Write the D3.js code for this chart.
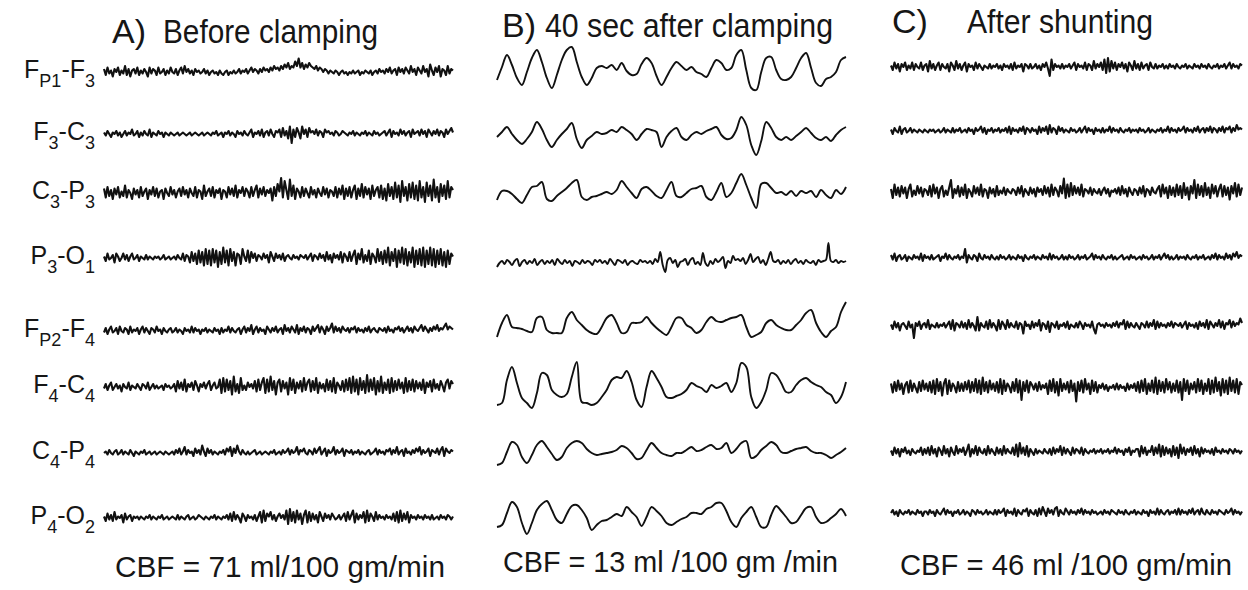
<!DOCTYPE html>
<html>
<head>
<meta charset="utf-8">
<script src="https://cdn.jsdelivr.net/npm/d3@7"></script>
<style>
  body { margin: 0; background: #fff; }
  svg text { font-family: "Liberation Sans", Arial, sans-serif; fill: #161616; }
</style>
</head>
<body>
<div id="chart"></div>
<script>
// 導程名稱 (主字, 下標)
const channels = [
    [["F", "P1"], ["F", "3"]],
    [["F", "3"], ["C", "3"]],
    [["C", "3"], ["P", "3"]],
    [["P", "3"], ["O", "1"]],
    [["F", "P2"], ["F", "4"]],
    [["F", "4"], ["C", "4"]],
    [["C", "4"], ["P", "4"]],
    [["P", "4"], ["O", "2"]]
];
const panelTags = ["A)", "B)", "C)"];
const panelTitles = ["Before clamping", "40 sec after clamping", "After shunting"];
const cbfLabels = ["CBF = 71 ml/100 gm/min", "CBF = 13 ml /100 gm /min", "CBF = 46 ml /100 gm/min"];

// A) Before clamping
const a1 = [2,-2,3,-1,1,-3,2,0,3,-2,1,-1,4,-2,2,-3,1,2,-1,3,
    -2,1,-1,2,0,-3,3,-1,2,1,-2,3,-1,0,2,-2,1,-1,3,0,
    -1,2,-2,1,3,-1,4,0,2,-1,1,-2,2,0,1,-1,0,2,-1,1,
    -2,0,1,-1,0,-2,1,-1,-2,0,1,-2,0,-1,1,-1,0,2,-1,1,
    0,2,-1,1,3,0,2,1,-1,2,0,3,1,2,0,3,1,4,2,3,
    1,4,2,5,3,6,2,4,3,7,4,9,3,6,2,5,3,6,4,3,
    2,4,1,3,2,0,2,1,-1,1,0,-1,1,0,-2,0,1,-1,0,-2,
    0,-1,1,-1,0,1,-2,0,-1,1,0,-1,1,-2,0,1,-1,2,0,1,
    -1,2,0,3,-1,1,2,-2,3,0,2,-1,3,1,-1,4,0,2,-2,3,
    1,-1,4,0,2,-3,5,1,-2,3,0,4,-3,2,1,-2,4,-1,2,1];
const a2 = [1,-1,2,0,-2,1,0,2,-1,1,-2,0,2,-1,1,0,3,-1,0,2,
    -2,1,-1,2,0,-1,3,-2,1,0,-1,2,0,1,-2,1,0,-1,1,0,
    -1,0,1,-1,0,1,0,-1,0,1,-1,0,1,0,-1,0,1,-1,0,1,
    0,-1,1,0,2,-1,0,1,-2,1,0,2,-1,1,0,-2,2,0,1,-1,
    2,0,-1,1,3,-2,1,0,2,-1,3,-2,1,2,-1,3,0,-2,2,1,
    3,-2,4,-1,2,-3,5,-6,3,-2,4,1,-3,5,0,3,-2,4,1,2,
    0,3,-1,2,1,-2,3,1,2,0,1,-1,2,1,-1,0,2,1,0,-1,
    1,0,2,-1,1,0,-1,1,0,2,-1,1,0,-1,2,0,1,-1,0,1,
    2,-1,1,3,-2,2,0,1,-1,3,0,2,-1,1,2,-2,3,0,1,2,
    -1,3,0,2,-2,3,1,-1,2,0,3,-1,2,1,-2,3,0,2,4,1];
const a3 = [3,-3,4,-2,2,-4,3,-1,4,-3,1,-2,5,-3,2,0,-4,3,-1,2,
    -3,4,-2,1,3,-4,2,-1,4,-2,3,-3,1,2,-4,3,0,-2,4,-1,
    2,-3,1,3,-2,4,-1,2,-3,3,0,-2,4,-3,2,1,-4,5,-2,1,
    3,-2,4,-3,2,0,3,-4,2,1,-3,4,-1,3,-2,5,-3,2,0,4,
    -2,3,1,-3,4,-2,2,5,-3,3,-1,4,-2,2,0,3,-5,4,-2,6,
    1,10,-3,8,2,-4,9,-2,5,-4,3,1,-3,4,-2,3,0,-3,4,-1,
    2,-3,3,0,-2,4,-1,3,-3,2,1,-2,4,-3,3,-1,5,-4,3,-2,
    4,-3,2,5,-4,3,-2,6,-3,4,-1,3,-4,5,-2,2,4,-3,5,-4,
    3,-5,6,-2,4,-4,7,-3,5,-6,8,-2,4,-5,6,-3,7,-4,5,-5,
    8,-3,4,-6,7,-2,5,-5,9,-3,4,-6,6,-2,5,-4,8,-3,4,2];
const a4 = [1,-2,3,-1,0,2,-3,3,1,-2,0,3,-1,2,-2,1,3,-1,0,2,
    -2,1,0,-1,2,-1,1,0,-1,1,0,1,-1,0,2,-1,0,1,-1,0,
    1,-1,2,0,-1,3,-2,2,1,-3,4,-2,3,-4,5,-3,4,-5,6,-4,
    5,-5,6,-3,5,-6,4,-4,7,-3,5,-5,6,-2,4,-5,3,2,-4,6,
    1,-2,5,-3,4,0,3,-2,2,1,-1,3,0,2,-3,4,1,-2,3,0,
    2,-1,3,-2,1,2,0,-1,2,0,1,-1,2,1,0,2,-1,1,3,-2,
    2,1,-1,3,0,2,-2,4,-1,2,-3,3,0,2,-1,4,-3,3,1,-2,
    4,-2,2,5,-4,3,-1,6,-3,2,-2,5,-4,3,1,-3,6,-2,4,-4,
    5,-3,7,-5,4,-2,6,-6,5,-3,7,-4,6,-5,4,-3,7,-6,5,-4,
    6,-5,7,-6,5,-4,7,-5,6,-6,5,-4,6,-5,4,-6,5,-4,3,1];
const a5 = [-1,2,-2,1,3,-1,0,2,-2,3,0,-1,2,1,-2,3,-1,1,0,2,
    -2,1,3,-1,2,0,-2,2,1,-1,3,0,1,-2,2,0,-1,1,2,-1,
    0,2,-1,1,0,-2,2,0,1,-1,3,-1,2,0,1,-2,1,0,2,-1,
    1,0,-1,2,0,1,-2,2,-1,1,0,3,-1,2,0,-1,1,2,-2,1,
    3,-1,2,0,4,-2,1,3,-1,2,0,1,-2,3,1,-1,2,0,3,-1,
    1,2,-2,4,0,2,-1,3,1,-1,4,-2,2,0,3,-1,2,1,-2,3,
    0,2,4,-1,3,1,-2,3,0,2,5,-1,3,0,2,-1,3,1,0,2,
    -1,2,1,3,-1,2,0,1,-1,2,0,3,-1,1,2,0,-1,2,1,0,
    2,-1,3,0,1,-1,2,1,3,0,2,-1,1,3,0,2,-1,3,1,0,
    2,4,0,3,1,-1,2,0,3,1,4,0,2,1,3,5,1,3,2,1];
const a6 = [-1,2,-2,1,3,-2,0,2,-1,1,-3,2,0,-1,3,-2,1,0,-1,2,
    0,-2,2,1,-1,3,-2,0,2,-1,1,-1,0,1,-2,2,0,1,-1,0,
    2,-3,4,-1,3,-2,5,-3,2,0,3,-2,4,1,-3,2,0,3,-1,2,
    4,-2,1,3,-1,0,5,-4,6,-3,5,-2,4,-5,7,-3,2,-4,6,-2,
    1,-2,3,0,2,-1,4,-3,5,-2,3,6,-4,5,-3,7,-2,4,-5,3,
    5,-3,4,-1,3,-5,6,-2,5,-4,3,-1,4,-3,6,-2,3,5,-3,4,
    -2,6,-4,3,-1,2,-3,5,-2,4,-3,6,-4,3,1,-2,4,-3,5,-2,
    6,-4,7,-3,5,-5,6,-2,4,-4,8,-3,5,-2,6,-5,4,-3,7,-4,
    3,-2,5,-4,6,-3,4,-2,5,-1,3,-4,6,-3,4,-2,5,-3,4,-1,
    3,-2,5,-4,3,0,4,-3,5,-1,2,-2,4,1,-3,3,5,-1,4,2];
const a7 = [0,1,-1,2,0,-1,1,2,-1,0,2,-1,1,0,-1,2,0,-2,1,0,
    -1,1,0,2,-1,0,1,-1,0,1,-1,0,1,0,-1,1,0,-1,0,1,
    -1,2,0,3,-1,1,4,-1,2,0,1,-2,3,0,2,-1,5,1,-2,3,
    0,2,-1,1,0,-1,1,0,2,-1,3,1,4,-2,3,0,5,1,-1,2,
    0,-1,1,-1,0,1,2,-1,0,1,-1,0,1,0,-1,1,0,2,-1,0,
    1,-1,2,0,1,3,-1,2,0,1,4,-1,2,1,3,0,-1,2,1,-1,
    3,0,2,4,-1,1,3,-2,2,0,1,4,-1,2,0,1,3,-2,2,1,
    0,2,-1,1,0,2,-1,1,0,-1,1,2,-1,0,1,3,-1,2,0,1,
    -1,2,1,3,-1,2,0,4,-1,1,2,-2,3,0,1,-1,2,0,3,1,
    4,-1,2,0,1,3,-2,2,1,0,3,-1,2,4,-2,3,1,0,2,1];
const a8 = [1,-2,3,-1,2,-2,4,-1,1,0,2,-3,3,-1,1,2,-2,1,0,1,
    -1,1,0,-1,1,0,2,-1,1,0,-1,1,0,2,-1,0,1,-1,0,1,
    0,-1,2,-1,1,0,-1,1,2,-1,0,1,-1,0,2,1,0,-1,1,0,
    -1,1,0,2,-1,1,0,-1,1,0,2,-1,3,-2,4,-1,2,0,-3,3,
    1,-2,2,0,1,-1,2,-2,1,4,-3,5,-2,3,1,4,-1,2,-2,1,
    3,0,2,-1,5,-4,6,-2,4,-3,5,-1,3,-4,2,5,-3,4,-2,3,
    -1,2,-3,4,1,-2,3,0,2,-1,3,1,-1,0,2,-1,1,3,-2,4,
    -1,2,5,-3,3,-1,2,0,4,-3,5,-2,3,1,-2,4,-1,2,0,1,
    -1,2,0,1,-1,3,-2,4,-3,5,-2,3,-1,4,-3,2,0,1,-1,2,
    0,1,-1,2,0,1,-1,2,-1,0,1,-1,2,0,1,-1,2,1,-1,1];

// B) 40 sec after clamping
const b1 = [-10,3,15,5,-8,-15,-2,12,20,8,-8,-18,-5,10,20,23,8,-7,-15,-8,2,4,2,5,0,7,-1,-5,-4,6,12,7,-6,-15,-7,2,8,4,0,3,-2,-4,-7,2,10,7,0,2,15,20,0,-18,-20,-2,12,13,0,-9,-10,-7,2,12,17,2,-13,-16,-9,-7,-2,10,13];
const b2 = [-2,3,8,1,-5,-9,-4,3,13,6,-5,-12,-5,1,6,12,-4,-13,-5,-1,3,1,2,5,3,8,5,1,-5,1,6,5,3,-12,-2,4,7,-2,-5,0,3,1,4,6,8,0,-4,-3,5,18,10,-10,-20,-6,13,7,-2,-5,-2,-5,-1,3,7,2,-3,-5,-2,-6,0,5,8];
const b3 = [-7,2,2,-1,-6,-10,-2,6,7,11,-6,-8,-3,1,5,10,13,-4,-7,-4,-3,-1,1,-1,3,12,6,0,-5,4,6,2,-3,-5,3,11,-3,-4,0,4,5,7,-4,-7,1,10,-4,0,10,19,8,-5,-15,9,10,5,0,1,-2,2,-3,2,0,2,-4,3,-2,-5,3,-1,6];
const b4 = [-4,0,2,-1,3,1,-2,2,4,-3,1,3,-1,2,0,4,-2,1,3,-1,
    2,0,3,-2,4,1,-1,3,0,2,-3,2,1,-1,3,0,2,1,-2,3,
    1,3,0,2,-1,4,1,-2,3,2,0,3,-2,1,2,0,-1,3,1,2,
    0,2,-1,4,1,11,-2,-9,3,5,0,3,-4,1,2,4,-2,3,5,-1,
    1,-2,10,0,-3,2,-1,4,1,3,6,-5,2,0,7,3,4,2,5,-1,
    3,9,1,4,6,0,3,-2,4,11,2,1,3,-1,2,0,3,-1,2,4,
    0,2,-1,3,1,0,2,-2,3,1,2,3,20,2,1,3,0,2,1,2];
const b5 = [-9,5,13,1,0,-1,-3,-4,10,11,-2,-5,-5,-5,10,16,8,3,-2,-5,-6,1,10,13,5,-5,-4,5,5,6,11,5,0,-4,-7,1,10,10,3,0,-5,-2,6,11,7,6,8,10,11,13,1,-9,-7,-4,5,8,3,0,-2,-2,3,8,15,18,5,-4,-9,-3,1,16,26];
const b6 = [-20,-18,5,18,2,-13,-18,-23,-8,12,10,-5,-10,-12,-9,8,23,-17,-18,-20,-18,-12,-5,5,8,7,14,3,-15,-22,-2,14,7,-2,-12,-13,-11,-9,-5,2,-1,-3,-7,0,-3,-1,2,-7,2,22,18,-12,-23,-17,-5,12,10,2,-7,-7,0,5,7,3,0,-2,-7,-10,-18,-12,3];
const b7 = [-12,-10,1,11,8,-4,-10,-2,8,12,6,-1,-7,-4,5,10,12,10,4,0,-2,-1,0,1,3,7,5,0,-6,-5,3,10,5,0,-2,-3,0,0,3,6,2,3,6,8,4,5,10,0,4,10,12,-5,-3,3,7,11,8,1,0,2,4,5,6,2,0,0,-2,-5,-2,1,5];
const b8 = [-9,-7,5,16,11,-5,-16,-5,8,14,17,8,-2,-5,4,12,13,8,0,-12,-7,-3,-2,1,4,2,11,6,1,-8,1,11,7,2,-5,-7,-4,-1,1,5,5,4,9,11,15,15,7,-4,-9,0,6,11,1,-9,-9,3,12,7,1,-5,-4,3,10,11,1,-5,-4,0,4,9,2];

// C) After shunting
const c1 = [1,-2,3,-1,2,-3,2,0,3,-2,1,-1,3,-2,2,0,-1,3,-2,1,
    2,-3,4,-1,2,-2,1,3,-2,2,0,-1,2,-3,3,1,-2,4,-1,2,
    -2,1,3,-3,2,0,1,-2,3,-1,2,0,-2,1,0,-1,2,-1,1,0,
    2,-1,1,-2,2,0,1,-1,2,-2,3,-1,1,0,2,-3,2,1,-1,2,
    -1,0,2,-1,1,-2,2,0,3,-1,-6,5,-2,2,0,1,-1,2,-1,1,
    0,2,-1,1,3,-2,2,0,1,-1,3,-2,2,1,-2,4,-1,2,0,3,
    -2,5,-4,6,-3,4,-1,3,-2,2,0,3,-1,2,-3,3,1,-2,4,-1,
    2,-2,3,-1,1,2,-2,3,0,-1,2,-1,1,0,2,-1,1,-1,2,0,
    1,-1,2,0,-1,1,0,2,-1,1,0,-1,2,0,1,-1,2,0,1,-1,
    2,0,-1,1,0,2,-1,1,0,2,-1,1,3,-1,2,0,1,-1,2,1];
const c2 = [1,-2,2,0,-1,3,-2,1,2,-1,0,2,-1,1,0,-1,1,0,-1,1,
    0,-1,1,0,1,-1,0,1,-1,0,2,-1,1,0,-1,2,-1,1,0,2,
    -1,0,1,-1,2,0,1,-2,2,0,1,3,-1,2,-2,1,0,2,-1,1,
    0,2,-1,1,0,2,-1,3,-2,2,0,1,-1,2,0,3,-2,2,1,-1,
    2,0,1,-2,3,-1,2,0,3,-2,4,-1,2,1,-2,3,0,2,-1,1,
    0,-1,2,0,1,-1,0,2,-1,1,3,-1,2,0,1,-2,2,0,1,-1,
    2,-1,1,0,3,-1,2,0,1,-1,2,0,-1,1,0,2,-1,1,0,1,
    -1,2,0,1,-1,0,2,-1,1,0,-1,1,0,2,-1,1,0,3,-1,2,
    0,1,-1,2,0,1,3,-1,2,0,1,-1,2,0,3,-1,1,2,-1,2,
    0,3,-1,2,1,-1,2,0,3,-1,2,1,3,-1,2,0,4,1,2,1];
const c3 = [2,-4,5,-2,3,-3,4,-1,3,-4,2,5,-3,1,-2,4,-1,3,-3,2,
    1,-2,4,-3,5,-1,3,-4,2,4,-3,1,-2,3,8,-4,2,-1,4,-3,
    3,-2,5,-4,2,0,-3,4,-1,3,-2,5,-3,2,1,-4,3,-1,2,-3,
    4,-2,1,-1,3,-2,2,0,-1,2,1,-2,3,-1,4,-3,2,0,-2,3,
    -1,2,-3,3,0,2,-2,4,-1,3,-3,5,-2,3,1,-3,4,-1,9,-4,
    5,-3,6,-2,4,-1,3,-2,5,-3,2,1,-1,3,-2,2,0,-1,2,-2,
    1,3,-1,2,-3,1,0,2,-1,3,-2,4,-1,2,-3,3,0,-2,2,1,
    -2,3,-1,4,-3,2,1,-2,3,0,-1,2,4,-3,5,-1,3,-4,4,-2,
    3,-3,5,-2,4,-4,6,-2,3,-5,4,-1,8,-4,5,-2,4,-3,6,-2,
    3,-4,5,-1,4,-3,2,5,-3,4,-2,3,-5,4,-1,6,-3,5,-2,3];
const c4 = [2,-1,3,-2,1,2,-1,0,2,-2,1,0,-1,2,0,1,-1,3,-2,2,
    0,1,-1,2,-1,0,1,2,-2,1,0,3,-1,2,0,-1,1,0,2,-1,
    1,0,6,-3,2,0,-1,2,1,-2,3,0,-1,2,0,1,-1,2,0,-1,
    1,-1,2,0,1,-1,0,2,-1,1,0,-1,2,0,1,-2,2,0,-1,1,
    0,2,-1,1,0,-1,2,0,1,-1,3,-1,2,0,1,-1,0,2,-1,1,
    -1,2,0,1,-1,0,2,-1,1,0,2,-1,0,1,3,-1,2,0,1,-1,
    2,0,-1,1,0,2,-1,1,-1,0,1,2,-1,0,1,-1,2,0,1,-1,
    0,1,-1,2,0,1,-1,0,2,-1,1,0,2,-1,1,3,0,2,-1,1,
    -1,0,2,-1,1,0,1,-1,2,0,-1,1,0,2,-1,1,0,2,-1,0,
    1,-1,2,0,3,-1,2,0,1,-1,3,0,2,-1,3,1,4,0,2,1];
const c5 = [1,-2,3,-1,2,-3,1,2,0,-2,3,-1,1,-8,2,0,3,-2,1,2,
    -1,4,-2,1,0,-1,2,-1,1,0,2,-1,1,3,-2,4,-3,2,1,-1,
    3,-1,2,-2,4,-1,2,0,-3,6,-3,2,0,-1,3,-2,4,-1,2,0,
    -3,4,-2,3,1,-2,4,-1,2,0,-1,3,-2,2,1,-5,3,0,1,-2,
    3,-1,2,0,4,-3,2,1,-2,3,-4,2,1,-1,3,-2,1,0,2,-1,
    3,-2,1,0,-1,2,-1,3,1,-2,2,0,1,-1,3,-2,-5,1,2,0,
    1,-1,2,0,1,-1,2,0,3,-1,2,1,4,-2,3,-1,2,0,-1,2,
    0,-2,2,1,-1,3,-1,2,0,4,-2,3,-1,2,0,1,-1,2,0,3,
    -1,2,1,0,2,-1,1,3,-2,2,0,1,-1,2,-2,3,0,2,-1,4,
    -2,3,1,-1,2,0,4,-1,3,-2,2,1,4,-1,3,0,2,1,5,2];
const c6 = [3,-3,4,-2,5,-1,3,-4,2,4,-3,5,-2,3,0,-3,4,-2,5,-1,
    3,-2,4,-3,5,-4,6,-2,4,-5,3,6,-4,5,-2,3,1,-3,4,-2,
    3,-2,4,-1,5,-3,4,-2,6,-3,5,-4,7,-2,4,-3,5,-1,3,-2,
    4,-3,6,-4,5,-2,3,1,-3,4,-2,6,-3,5,-8,4,-2,5,-3,4,
    2,-1,3,-2,4,-1,2,0,3,-4,5,-2,6,-3,4,-5,6,-2,3,-1,
    4,-3,5,-2,3,-9,4,-2,5,-3,6,-1,3,-4,5,-2,4,-3,2,0,
    3,-1,2,-2,1,0,2,-1,3,-1,2,0,1,-2,3,-1,2,0,3,-2,
    4,-3,5,-2,6,-4,3,-2,5,-3,7,-4,5,-2,4,-3,6,-1,4,-3,
    3,-2,5,-3,4,-8,6,-2,5,-4,3,-1,4,-3,6,-2,5,-4,3,-2,
    6,-4,5,-3,7,-2,4,-5,6,-3,5,-4,7,-2,5,-3,6,-4,4,2];
const c7 = [1,-2,3,-1,2,-3,2,0,3,-1,1,-2,2,0,-1,1,0,3,-2,2,
    -1,3,-2,4,-1,2,-3,3,1,-2,4,-1,2,-3,3,0,-2,4,-1,2,
    0,3,-2,1,5,-3,2,-1,4,-2,3,0,-1,2,-2,4,-1,2,0,-2,
    3,-1,2,-2,4,-1,2,0,-1,3,-2,5,-3,6,-1,3,-2,4,-3,2,
    0,-2,2,-1,1,0,-1,2,0,-1,2,-2,3,-1,2,0,4,-2,3,-1,
    2,0,-2,3,-1,2,1,-1,3,-2,2,0,-1,1,0,2,-1,1,0,2,
    -1,1,0,2,-1,1,0,3,-1,2,0,1,-2,2,0,3,-2,1,0,2,
    2,-3,4,-1,3,-2,1,0,4,-2,3,-1,5,-3,4,-2,3,-1,2,-3,
    4,-2,3,-4,5,-1,3,-2,2,0,3,-2,4,-1,2,-3,3,-1,2,0,
    1,-1,2,-2,3,0,1,-1,2,0,1,-1,2,1,-1,2,0,1,-1,1];
const c8 = [0,2,-1,1,-2,2,0,-1,1,0,2,-1,1,0,-1,2,0,1,-2,1,
    1,-1,2,0,1,-2,2,0,-1,1,3,-1,2,0,1,-2,1,0,2,-1,
    0,2,-1,1,0,-2,2,1,-1,2,0,1,-1,0,2,-1,1,0,-1,2,
    -1,2,0,1,3,-2,2,0,1,-1,3,-2,2,0,-1,2,1,3,-2,2,
    0,-1,2,-2,3,-1,4,1,-2,3,0,2,-1,3,4,-2,2,0,-1,3,
    1,-1,2,0,1,-1,2,0,3,-1,2,0,1,-1,2,0,1,-1,0,1,
    -1,2,0,1,-1,2,1,0,-1,2,0,1,-1,2,0,-1,1,0,2,-1,
    1,0,-1,2,0,1,-2,2,0,1,-1,3,-1,2,0,-1,1,2,-1,1,
    0,2,-1,3,-1,2,0,1,-1,2,0,3,-1,1,2,-1,3,0,-1,2,
    0,-1,2,0,1,-1,2,1,0,-1,2,0,1,3,-1,2,0,1,-1,1];

const panelSeries = [
    [a1, a2, a3, a4, a5, a6, a7, a8],
    [b1, b2, b3, b4, b5, b6, b7, b8],
    [c1, c2, c3, c4, c5, c6, c7, c8]
];

const width = 1248;
const height = 590;

// 版面 (像素)
const panelX = [[104, 453], [497, 846], [891, 1242]];
const rowY = [
    [72, 134, 193, 258, 331, 387, 453, 518],
    [70, 135, 193, 263, 328, 385, 453, 518],
    [67, 131, 192, 258, 326, 388, 452, 513]
];
const tagX = [112, 502, 892];
const titleX = [[163, 378], [545, 833], [967, 1153]];
const titleY = [43, 37, 33];
const cbfX = [[115, 445], [503, 838], [900, 1232]];
const cbfY = [577, 572, 575];
const strokeW = [2.1, 1.9, 2.1];
const gain = [1.5, 1, 1.5]; // 每像素的增益
const curves = [d3.curveLinear, d3.curveCatmullRom.alpha(0.5), d3.curveLinear];

const svg = d3.select("#chart")
    .append("svg")
    .attr("width", width)
    .attr("height", height);

svg.append("rect").attr("width", width).attr("height", height).attr("fill", "#fff");

panelSeries.forEach((series, p) => {
    const yScale = d3.scaleLinear().domain([-30, 30]).range([30 * gain[p], -30 * gain[p]]);
    series.forEach((values, r) => {
        const xScale = d3.scaleLinear()
            .domain([0, values.length - 1])
            .range(panelX[p]);
        const line = d3.line()
            .x((d, i) => xScale(i))
            .y(d => yScale(d))
            .curve(curves[p]);
        svg.append("g")
            .attr("transform", `translate(0, ${rowY[p][r]})`)
            .append("path")
            .datum(values)
            .attr("d", line)
            .attr("fill", "none")
            .attr("stroke", "#111")
            .attr("stroke-width", strokeW[p])
            .attr("stroke-linejoin", "round");
    });

    // 標題
    svg.append("text")
        .attr("x", tagX[p])
        .attr("y", titleY[p])
        .attr("font-size", 34)
        .text(panelTags[p]);
    svg.append("text")
        .attr("x", titleX[p][0])
        .attr("y", titleY[p])
        .attr("font-size", 34)
        .attr("textLength", titleX[p][1] - titleX[p][0])
        .attr("lengthAdjust", "spacingAndGlyphs")
        .text(panelTitles[p]);

    // CBF
    svg.append("text")
        .attr("x", cbfX[p][0])
        .attr("y", cbfY[p])
        .attr("font-size", 30)
        .attr("textLength", cbfX[p][1] - cbfX[p][0])
        .attr("lengthAdjust", "spacingAndGlyphs")
        .text(cbfLabels[p]);
});

// 導程標籤
channels.forEach((ch, r) => {
    const t = svg.append("text")
        .attr("x", 95)
        .attr("y", rowY[0][r] + 6)
        .attr("text-anchor", "end")
        .attr("font-size", 25);
    ch.forEach((part, k) => {
        if (k > 0) t.append("tspan").attr("dy", -9).attr("font-size", 25).text("-");
        t.append("tspan").attr("font-size", 25).text(part[0]);
        t.append("tspan").attr("dy", 9).attr("font-size", 18).text(part[1]);
    });
});
</script>
</body>
</html>
